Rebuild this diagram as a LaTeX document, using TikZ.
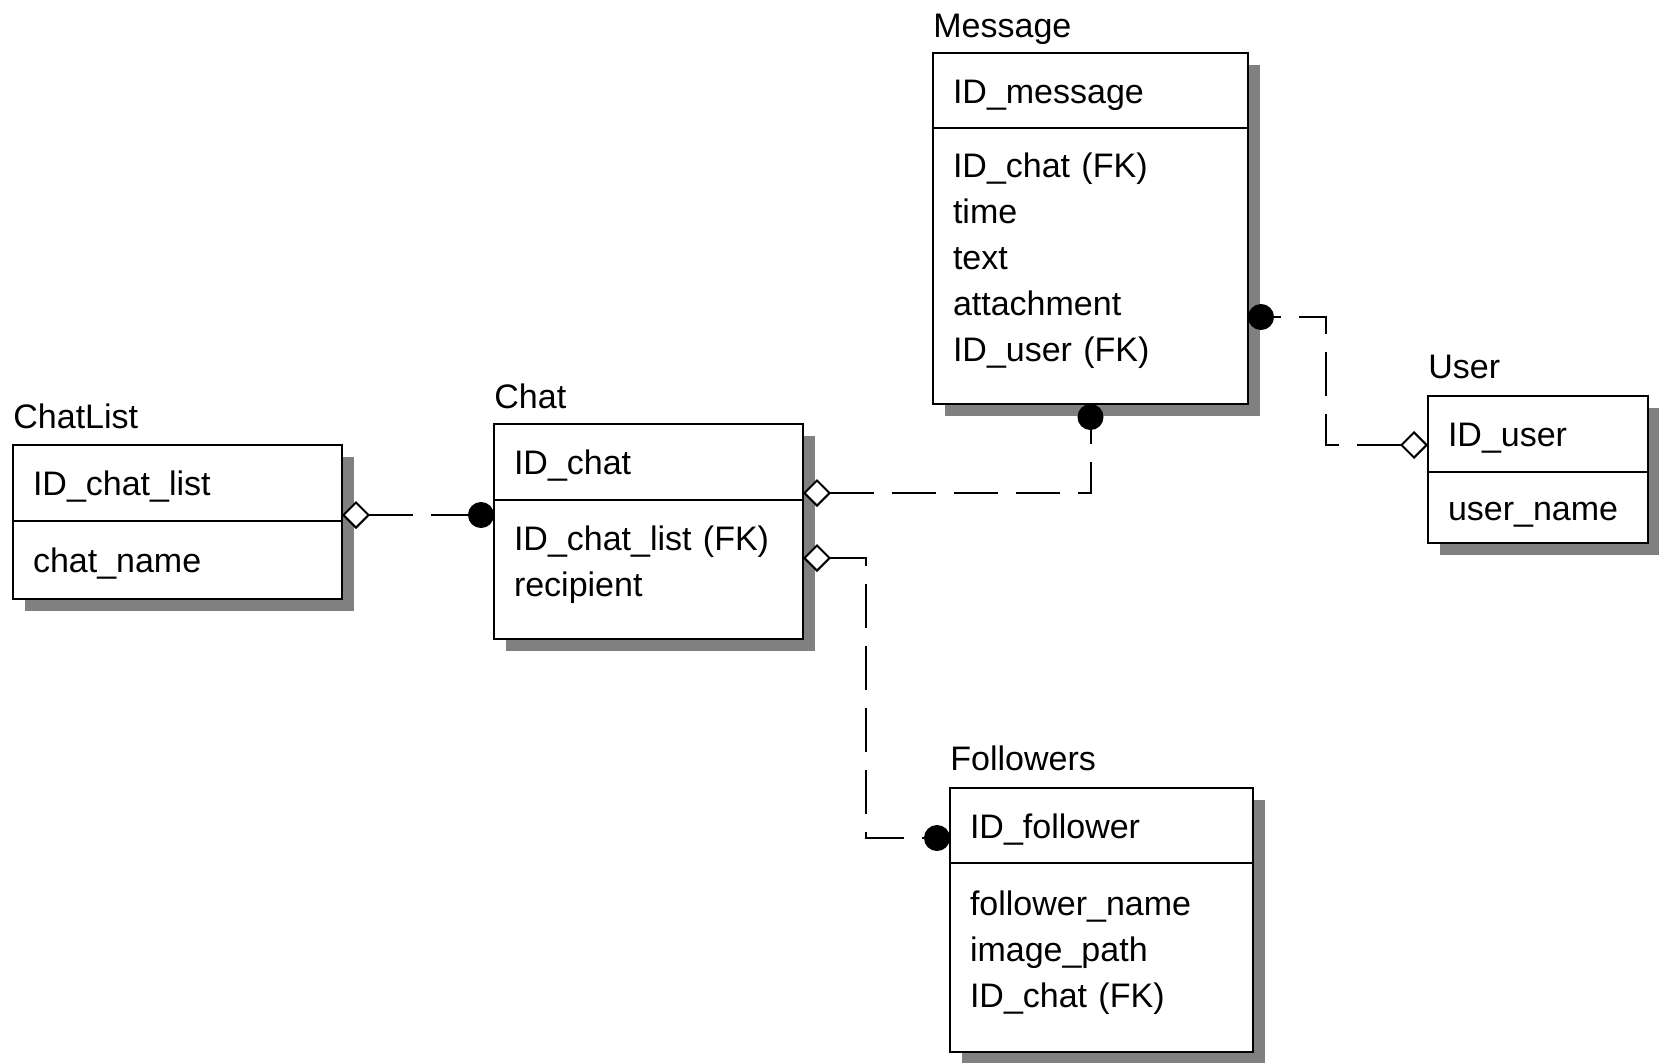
\documentclass[tikz,border=0pt]{standalone}
\usepackage{fontspec}
\setmainfont{Liberation Sans}
\usetikzlibrary{arrows.meta,shadows,positioning}

\newcommand{\entfont}{\fontsize{17pt}{23pt}\selectfont}

\begin{document}
\begin{tikzpicture}[x=0.5pt, y=-0.5pt]
    % Define styles
    \tikzset{
        entity/.style={draw, line width=1.2pt, fill=white, anchor=north west, outer sep=0pt,
            inner xsep=10pt, inner ysep=0pt, align=left, font=\entfont,
            drop shadow={shadow xshift=6pt, shadow yshift=-6pt, fill=black!50, opacity=1}},
        onerow/.style={entity, text height=12.8pt, text depth=0pt},
        rows/.style={entity, text height=7.2pt},
        enttitle/.style={font=\entfont, inner sep=0pt, anchor=base west},
        rel/.style={line width=1pt, dash pattern=on 22pt off 9pt,
            {Diamond[fill=white, length=14pt, width=14pt]}-{Circle[length=13pt]}}
    }
    \useasboundingbox (0,0) rectangle (1659,1062);

    % Entities
    \node[onerow, text width=144.5pt, minimum height=38pt] (cl_key) at (13,445) {ID\_chat\_list};
    \node[onerow, text width=144.5pt, minimum height=39pt, below=0pt of cl_key] (cl_attr) {chat\_name};
    \node[enttitle] (cl_title) at ([yshift=8.5pt]cl_key.north west) {ChatList};

    \node[onerow, text width=134.5pt, minimum height=38pt] (chat_key) at (494,424) {ID\_chat};
    \node[rows, text width=134.5pt, minimum height=69.5pt, below=0pt of chat_key] (chat_attr) {ID\_chat\_list (FK)\\recipient};
    \node[enttitle] (chat_title) at ([yshift=8pt]chat_key.north west) {Chat};

    \node[onerow, text width=137.5pt, minimum height=37.5pt] (msg_key) at (933,53) {ID\_message};
    \node[rows, text width=137.5pt, minimum height=138pt, below=0pt of msg_key] (msg_attr) {ID\_chat (FK)\\time\\text\\attachment\\ID\_user (FK)};
    \node[enttitle] (msg_title) at ([yshift=8pt]msg_key.north west) {Message};

    \node[onerow, text width=90pt, minimum height=38pt] (user_key) at (1428,396) {ID\_user};
    \node[onerow, text width=90pt, minimum height=35.5pt, below=0pt of user_key] (user_attr) {user\_name};
    \node[enttitle] (user_title) at ([yshift=9pt]user_key.north west) {User};

    \node[onerow, text width=131.5pt, minimum height=37.5pt] (fol_key) at (950,788) {ID\_follower};
    \node[rows, text width=131.5pt, minimum height=94.5pt, below=0pt of fol_key] (fol_attr) {follower\_name\\image\_path\\ID\_chat (FK)};
    \node[enttitle] (fol_title) at ([yshift=9pt]fol_key.north west) {Followers};

    % Attachment points
    \coordinate (cl_p) at ([yshift=3pt]cl_key.south east);
    \coordinate (chat_p1) at ([yshift=3.5pt]chat_key.south east);
    \coordinate (chat_p2) at ([yshift=-29pt]chat_attr.north east);
    \coordinate (msg_p) at ([yshift=43.5pt]msg_attr.south east);
    \coordinate (user_p) at ([yshift=13.5pt]user_key.south west);
    \coordinate (fol_p) at ([yshift=12.5pt]fol_key.south west);

    % Relationships
    \draw[rel] (cl_p) -- (cl_p -| chat_attr.west);
    \draw[rel] (chat_p1) -| (msg_attr.south);
    \draw[rel] (chat_p2) -| ([xshift=-42pt]fol_p) -- (fol_p);
    \draw[rel] (user_p) -| ([xshift=39pt]msg_p) -- (msg_p);
\end{tikzpicture}
\end{document}
